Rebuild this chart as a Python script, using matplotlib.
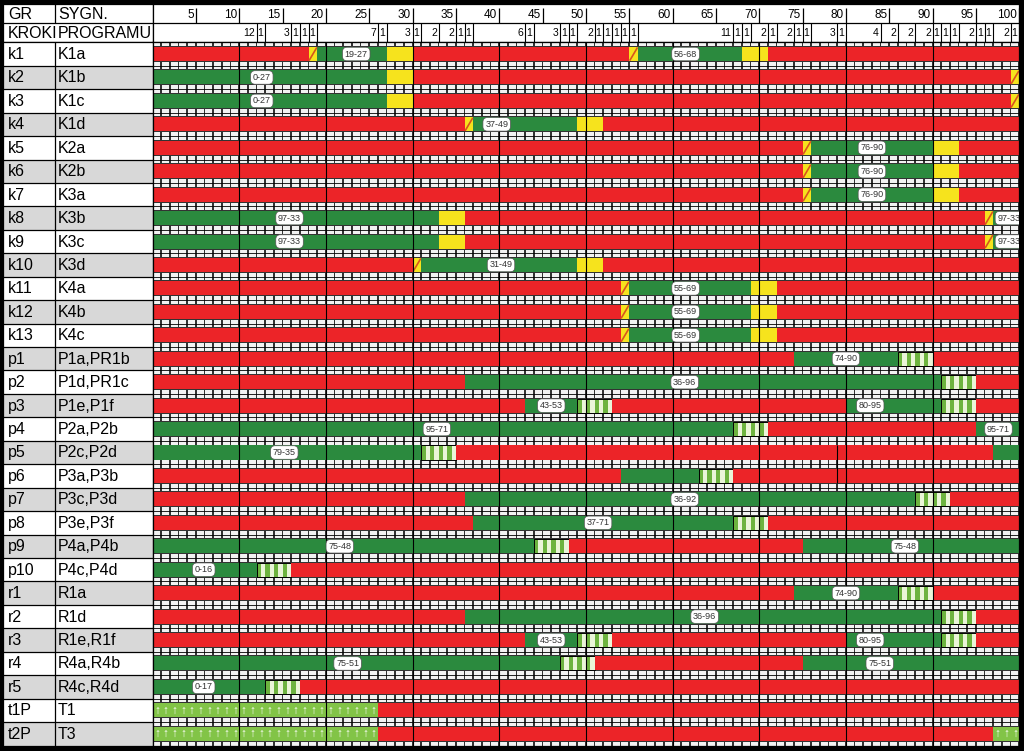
import re
import matplotlib.pyplot as plt

plt.rcParams['font.family'] = ['Liberation Sans', 'DejaVu Sans']

# ---- data ----
groups = ['k1', 'k2', 'k3', 'k4', 'k5', 'k6', 'k7', 'k8', 'k9', 'k10', 'k11', 'k12', 'k13',
          'p1', 'p2', 'p3', 'p4', 'p5', 'p6', 'p7', 'p8', 'p9', 'p10',
          'r1', 'r2', 'r3', 'r4', 'r5', 't1P', 't2P']
signals = ['K1a', 'K1b', 'K1c', 'K1d', 'K2a', 'K2b', 'K3a', 'K3b', 'K3c', 'K3d', 'K4a', 'K4b', 'K4c',
           'P1a,PR1b', 'P1d,PR1c', 'P1e,P1f', 'P2a,P2b', 'P2c,P2d', 'P3a,P3b', 'P3c,P3d', 'P3e,P3f',
           'P4a,P4b', 'P4c,P4d', 'R1a', 'R1d', 'R1e,R1f', 'R4a,R4b', 'R4c,R4d', 'T1', 'T3']

# signal state changes: state + start second (R red, G green, Y yellow, RY red-yellow,
# FG flashing green, A green arrow)
plans = [
    'R0 RY18 G19 Y27 R30 RY55 G56 Y68 R71',
    'G0 Y27 R30 RY99',
    'G0 Y27 R30 RY99',
    'R0 RY36 G37 Y49 R52',
    'R0 RY75 G76 Y90 R93',
    'R0 RY75 G76 Y90 R93',
    'R0 RY75 G76 Y90 R93',
    'G0 Y33 R36 RY96 G97',
    'G0 Y33 R36 RY96 G97',
    'R0 RY30 G31 Y49 R52',
    'R0 RY54 G55 Y69 R72',
    'R0 RY54 G55 Y69 R72',
    'R0 RY54 G55 Y69 R72',
    'R0 G74 FG86 R90',
    'R0 G36 FG91 R95',
    'R0 G43 FG49 R53 G80 FG91 R95',
    'G0 FG67 R71 G95',
    'G0 FG31 R35 G97',
    'R0 G54 FG63 R67',
    'R0 G36 FG88 R92',
    'R0 G37 FG67 R71',
    'G0 FG44 R48 G75',
    'G0 FG12 R16',
    'R0 G74 FG86 R90',
    'R0 G36 FG91 R95',
    'R0 G43 FG49 R53 G80 FG91 R95',
    'G0 FG47 R51 G75',
    'G0 FG13 R17',
    'A0 R26',
    'A0 R26 A97',
]

# green time labels: (text, position in s)
green_labels = [
    [('19-27', 23.5), ('56-68', 61.5)],
    [('0-27', 12.6)],
    [('0-27', 12.6)],
    [('37-49', 39.7)],
    [('76-90', 83)],
    [('76-90', 83)],
    [('76-90', 83)],
    [('97-33', 15.8), ('97-33', 98.8)],
    [('97-33', 15.8), ('97-33', 98.8)],
    [('31-49', 40.2)],
    [('55-69', 61.5)],
    [('55-69', 61.5)],
    [('55-69', 61.5)],
    [('74-90', 80)],
    [('36-96', 61.4)],
    [('43-53', 46), ('80-95', 82.8)],
    [('95-71', 32.8), ('95-71', 97.6)],
    [('79-35', 15.2)],
    [],
    [('36-92', 61.4)],
    [('37-71', 51.4)],
    [('75-48', 21.6), ('75-48', 86.8)],
    [('0-16', 5.9)],
    [('74-90', 80)],
    [('36-96', 63.7)],
    [('43-53', 46), ('80-95', 82.8)],
    [('75-51', 22.5), ('75-51', 83.9)],
    [('0-17', 5.9)],
    [],
    [],
]

steps = [12, 1, 3, 1, 1, 1, 7, 1, 3, 1, 2, 2, 1, 1, 6, 1, 3, 1, 1, 2, 1, 1, 1, 1, 1,
         11, 1, 1, 2, 1, 2, 1, 1, 3, 1, 4, 2, 2, 2, 1, 1, 1, 2, 1, 1, 2, 1]
ticks5 = list(range(5, 101, 5))
cycle = 100

RED = '#ec2428'
GREEN = '#2b8a3e'
YELLOW = '#f6e31d'
AMBER_LINE = '#d9531e'
ARROW_BG = '#82c447'
FG_A = '#6db33f'
FG_B = '#eaf5d8'
GRAY = '#d8d8d8'

W, H = 1024, 751
fig = plt.figure(figsize=(W / 100, H / 100), dpi=100)
fig.patch.set_facecolor('black')


def add_px_axes(x0, y0, x1, y1):
    ax = fig.add_axes([x0 / W, 1 - y1 / H, (x1 - x0) / W, (y1 - y0) / H])
    ax.set_xticks([])
    ax.set_yticks([])
    ax.set_facecolor('white')
    for s in ax.spines.values():
        s.set_linewidth(0.9)
    return ax


TL0, TL1 = 152.6, 1019.3
TOP, BODY, BOT = 4, 42.3, 745.5
LEFT, DIV = 3, 55

ax_lh = add_px_axes(LEFT, TOP, TL0, BODY)
ax_lb = add_px_axes(LEFT, BODY, TL0, BOT)
ax_h = add_px_axes(TL0, TOP, TL1, BODY)
ax_b = add_px_axes(TL0, BODY, TL1, BOT)

n = len(groups)
xdiv = (DIV - LEFT) / (TL0 - LEFT)

# ---- left header ----
ax_lh.set_xlim(0, 1)
ax_lh.set_ylim(2, 0)
ax_lh.axhline(1, color='black', lw=0.9)
ax_lh.vlines(xdiv, 0, 1, color='black', lw=0.9)
ax_lh.text(0.035, 0.55, 'GR', fontsize=11.5, va='center')
ax_lh.text(xdiv + 0.02, 0.55, 'SYGN.', fontsize=11.5, va='center')
ax_lh.text(0.035, 1.52, 'KROKI', fontsize=11.5, va='center')
ax_lh.text(xdiv + 0.02, 1.52, 'PROGRAMU', fontsize=11.5, va='center')

# ---- left body ----
ax_lb.set_xlim(0, 1)
ax_lb.set_ylim(n, 0)
for i, (g, s) in enumerate(zip(groups, signals)):
    if i % 2 == 1:
        ax_lb.axhspan(i, i + 1, color=GRAY, lw=0)
    ax_lb.text(0.035, i + 0.52, g, fontsize=11.5, va='center')
    ax_lb.text(xdiv + 0.02, i + 0.52, s, fontsize=11.5, va='center')
ax_lb.hlines(range(1, n), 0, 1, color='black', lw=0.9)
ax_lb.vlines(xdiv, 0, n, color='black', lw=0.9)

# ---- timeline header ----
ax_h.set_xlim(0, cycle)
ax_h.set_ylim(2, 0)
ax_h.axhline(1, color='black', lw=0.9)
ax_h.vlines(ticks5, 0.2, 1, color='black', lw=0.9)
for t in ticks5:
    ax_h.text(t - 0.25, 0.55, str(t), ha='right', va='center', fontsize=8.5)
b = 0
for d in steps:
    b += d
    ax_h.vlines(b, 1, 2, color='black', lw=0.8)
    ax_h.text(b - 0.2, 1.5, str(d), ha='right', va='center', fontsize=7.5)

# ---- timeline body ----
ax_b.set_xlim(0, cycle)
ax_b.set_ylim(n, 0)

# second-marking strips between rows
secs = list(range(cycle))
for k in range(n + 1):
    ax_b.broken_barh([(0, cycle)], (k - 0.2, 0.4), color='#333333', lw=0)
    ax_b.broken_barh([(s + 0.1, 0.8) for s in secs], (k - 0.16, 0.32), color='#f2f2f2', lw=0)
    ax_b.hlines(k, 0, cycle, color='black', lw=0.6)

colors = {'R': RED, 'G': GREEN, 'Y': YELLOW, 'RY': YELLOW, 'A': ARROW_BG}
for i, plan in enumerate(plans):
    items = [re.match(r'([A-Z]+)(\d+)', it).groups() for it in plan.split()]
    for j, (st, t0) in enumerate(items):
        t0 = int(t0)
        t1 = int(items[j + 1][1]) if j + 1 < len(items) else cycle
        y0, h = i + 0.2, 0.6
        if st == 'FG':
            halves = [(t0 + 0.5 * q, 0.5) for q in range(2 * (t1 - t0))]
            ax_b.broken_barh(halves[0::2], (y0, h), color=FG_A, lw=0)
            ax_b.broken_barh(halves[1::2], (y0, h), color=FG_B, lw=0)
            ax_b.broken_barh([(t0, t1 - t0)], (y0, h), facecolor='none',
                             edgecolor='black', lw=0.7)
        else:
            ax_b.broken_barh([(t0, t1 - t0)], (y0, h), color=colors[st], lw=0)
        if st == 'RY':
            ax_b.plot([t0 + 0.1, t1 - 0.1], [y0 + h - 0.05, y0 + 0.05], color=AMBER_LINE, lw=1.2)
        if st == 'A':
            for s in range(t0, t1):
                ax_b.text(s + 0.5, i + 0.52, '\u2191', color='white', fontsize=8.5,
                          ha='center', va='center', fontweight='bold')
    for txt, pos in green_labels[i]:
        ax_b.text(pos, i + 0.5, txt, fontsize=6.5, color='#333333', ha='center', va='center',
                  clip_on=True,
                  bbox=dict(boxstyle='round,pad=0.25,rounding_size=0.5', fc='white',
                            ec='#555555', lw=0.5))

# odd thin mark inside p5 / p6
ax_b.vlines(79, 17.2, 18.8, color='black', lw=0.8)
ax_b.vlines(range(10, cycle, 10), 0, n, color='black', lw=0.8)

fig.savefig('out.png', dpi=100, facecolor=fig.get_facecolor())
